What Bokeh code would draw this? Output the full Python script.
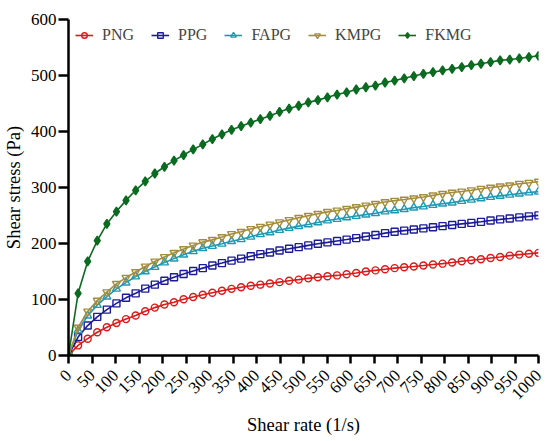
from bokeh.plotting import figure
from bokeh.models import Range1d, FixedTicker, Legend, LegendItem
from bokeh.embed import file_html
from bokeh.resources import INLINE

shear_rate = [0, 20.4, 40.8, 61.2, 81.6, 102.0, 122.4, 142.9, 163.3, 183.7,
              204.1, 224.5, 244.9, 265.3, 285.7, 306.1, 326.5, 346.9, 367.3, 387.8,
              408.2, 428.6, 449.0, 469.4, 489.8, 510.2, 530.6, 551.0, 571.4, 591.8,
              612.2, 632.7, 653.1, 673.5, 693.9, 714.3, 734.7, 755.1, 775.5, 795.9,
              816.3, 836.7, 857.1, 877.6, 898.0, 918.4, 938.8, 959.2, 979.6, 1000.0]

PNG = [0, 18, 30, 41.5, 50.5, 58, 65, 71.5, 79, 85.5, 91, 95, 100.5, 104.5, 108.5,
       112, 115.5, 119, 122, 124.5, 126.5, 128.5, 131, 133.5, 135.5, 137.8, 139.6,
       141.4, 143, 145, 147.4, 150, 152, 154, 156, 157.5, 159, 160.6, 162.4, 164,
       166, 168.2, 170, 172, 174.2, 176, 178.3, 180.2, 181.7, 183.2]
PPG = [0, 33, 53.5, 69, 82, 93, 103, 111, 119.4, 126.5, 133.5, 139.6, 145.6, 151,
       156, 160.6, 165, 169.5, 173, 177.3, 181, 184, 187.6, 190.6, 193.5, 196.6,
       199.6, 202, 204.5, 207, 209.6, 212.5, 215.3, 218.5, 221, 223, 225, 227, 229,
       231, 233, 235, 236.8, 238.7, 241, 243, 244.7, 246.6, 248.5, 250.3]
FAPG = [0, 44.6, 71, 90, 105, 119, 130, 141, 150, 158, 166, 173, 180, 186, 191.5,
        195.5, 199.5, 204, 207.5, 212, 216.4, 219.8, 224, 227.5, 231, 234, 237.6,
        241, 243.6, 246.5, 249, 251.5, 254, 257, 259, 261.2, 264, 266, 268.6, 271,
        273, 275.8, 278, 280.5, 283, 285, 287, 289, 291, 292.6]
KMPG = [0, 50, 78.6, 98, 113, 128, 139, 149, 159, 168, 176, 183.5, 190, 196.6,
        202.5, 206.5, 211.5, 217, 221, 226, 230, 234, 238, 242, 246, 249.5, 253,
        256.5, 259, 262, 265, 268, 271, 274, 276.5, 278.5, 280.8, 283, 286, 288.8,
        291, 293, 295.2, 297.8, 300, 302, 304, 306.8, 308.6, 310.5]
FKMG = [0, 111, 168, 205, 235, 257, 277, 295, 311, 325, 337, 348, 358, 368, 377,
        386.5, 395, 403, 409.5, 416, 422, 428, 435, 441, 446, 452, 456, 461, 466,
        470, 475, 479, 482, 487.5, 491, 495, 499, 503, 506, 509, 512, 515, 518.5,
        521, 524, 527, 528.5, 530.5, 533, 535]

series_names = ["PNG", "PPG", "FAPG", "KMPG", "FKMG"]
series_values = [PNG, PPG, FAPG, KMPG, FKMG]
colors = ["#dd1a1a", "#1c1c9a", "#1f9ab4", "#a48e3e", "#0b6b20"]
markers = ["circle", "square", "triangle", "inverted_triangle", "diamond"]
filled = [False, False, False, False, True]
msizes = [7, 7, 8, 8, 9]

x_ticks = list(range(0, 1001, 50))
y_ticks = list(range(0, 601, 100))

FONT = "Liberation Serif"

p = figure(width=548, height=439, output_backend="svg", toolbar_location=None,
           x_range=Range1d(0, 1000), y_range=Range1d(0, 600),
           min_border_left=67, min_border_right=10, min_border_top=19,
           min_border_bottom=84)
p.outline_line_color = None
p.grid.visible = False
p.background_fill_color = "white"

items = []
for name, vals, c, m, f, s in zip(series_names, series_values, colors, markers, filled, msizes):
    r1 = p.line(shear_rate, vals, line_color=c, line_width=1.6)
    r2 = p.scatter(shear_rate, vals, marker=m, size=s, line_color=c, line_width=1.4,
                   fill_color=c if f else "white", fill_alpha=1.0 if f else 0.0)
    items.append(LegendItem(label=name, renderers=[r1, r2]))

legend = Legend(items=items, orientation="horizontal", location="top_left",
                border_line_color=None, background_fill_alpha=0,
                label_text_font=FONT, label_text_font_size="16px",
                glyph_width=18, glyph_height=14, label_standoff=9, spacing=17,
                margin=7, padding=1)
p.add_layout(legend, "center")

for ax in (p.xaxis[0], p.yaxis[0]):
    ax.axis_line_width = 2.5
    ax.axis_line_color = "black"
    ax.major_tick_line_width = 2.5
    ax.major_tick_line_color = "black"
    ax.major_tick_in = 0
    ax.minor_tick_line_color = None
    ax.major_label_text_font = FONT
    ax.major_label_text_font_size = "17px"
    ax.major_label_text_color = "black"
    ax.axis_label_text_font = FONT
    ax.axis_label_text_font_style = "normal"
    ax.axis_label_text_color = "black"

p.xaxis.ticker = FixedTicker(ticks=x_ticks)
p.yaxis.ticker = FixedTicker(ticks=y_ticks)
p.xaxis.major_label_orientation = 0.785398
p.xaxis.axis_label = "Shear rate (1/s)"
p.yaxis.axis_label = "Shear stress (Pa)"
p.xaxis.axis_label_text_font_size = "18.5px"
p.yaxis.axis_label_text_font_size = "18.5px"
p.xaxis.major_tick_out = 8
p.yaxis.major_tick_out = 10
p.xaxis.major_label_standoff = 9
p.yaxis.major_label_standoff = 2
p.xaxis.axis_label_standoff = 8
p.yaxis.axis_label_standoff = 4

open("out.html", "w").write(file_html(p, INLINE))
